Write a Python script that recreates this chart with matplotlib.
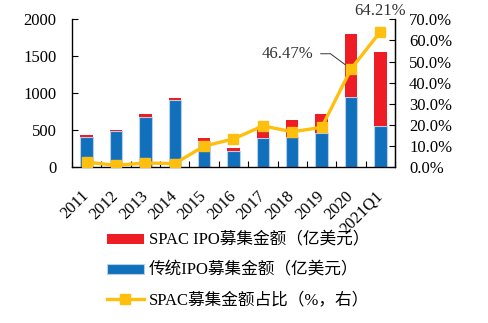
import numpy as np
import matplotlib.pyplot as plt
from matplotlib.ticker import FuncFormatter, MultipleLocator
from matplotlib.transforms import ScaledTranslation

plt.rcParams['font.family'] = ['Liberation Serif', 'Noto Sans CJK SC']
plt.rcParams['font.size'] = 12

years = ['2011', '2012', '2013', '2014', '2015', '2016', '2017', '2018', '2019', '2020', '2021Q1']
trad_ipo = [407, 488, 678, 904, 348, 217, 397, 407, 465, 953, 557]
spac_ipo = [27, 14, 41, 32, 45, 45, 135, 230, 254, 850, 1000]
spac_share = [2.3, 0.8, 1.9, 1.6, 9.9, 13.3, 19.5, 16.7, 18.8, 46.47, 64.21]

red = '#ee1c25'
blue = '#1170bb'
yellow = '#ffbf0f'

fig = plt.figure(figsize=(4.89, 3.23), dpi=100)
ax = fig.add_axes([0.147, 0.483, 0.661, 0.457])
x = np.arange(len(years))

ax.bar(x, trad_ipo, width=0.42, color=blue, edgecolor='#b8cdea', linewidth=0.8,
       label='传统IPO募集金额（亿美元）', zorder=2)
ax.bar(x, spac_ipo, width=0.42, bottom=trad_ipo, color=red, linewidth=0,
       label='SPAC IPO募集金额（亿美元）', zorder=2)

ax.set_xlim(-0.5, len(years) - 0.5)
ax.set_ylim(0, 2000)
ax.yaxis.set_major_locator(MultipleLocator(500))
ax.set_xticks(x)
ax.set_xticklabels(years, rotation=45, ha='right', rotation_mode='anchor')
ax.set_xticks(np.arange(-0.5, len(years)), minor=True)
ax.tick_params(axis='x', which='major', length=0, pad=15)
ax.tick_params(axis='x', which='minor', direction='in', length=4, width=0.8)
ax.tick_params(axis='y', direction='in', length=4, width=0.8, pad=11)
# nudge the rotated year labels a little to the left
shift = ScaledTranslation(-4 / 72, 0, fig.dpi_scale_trans)
for lbl in ax.get_xticklabels():
    lbl.set_transform(lbl.get_transform() + shift)
ax.spines['top'].set_visible(False)
for s in ['left', 'bottom', 'right']:
    ax.spines[s].set_linewidth(0.9)

ax2 = ax.twinx()
ax2.plot(x, spac_share, color=yellow, lw=2.4, marker='s', ms=7,
         label='SPAC募集金额占比（%，右）', zorder=3)
ax2.set_ylim(0, 70)
ax2.yaxis.set_major_locator(MultipleLocator(10))
ax2.yaxis.set_major_formatter(FuncFormatter(lambda v, p: f'{v:.1f}%'))
ax2.tick_params(axis='y', direction='in', length=4, width=0.8, pad=10)
ax2.spines['top'].set_visible(False)
ax2.spines['right'].set_linewidth(0.9)

# 2020 label sits up-left, joined to its marker by a bent leader line
lab_x, lab_y = 6.85, 53.7
ax2.text(lab_x, lab_y, f'{spac_share[9]:.2f}%', ha='center', va='center',
         color='#333333')
ax2.plot([lab_x + 1.12, lab_x + 1.45, x[9]], [lab_y, lab_y, spac_share[9]],
         color='#333333', lw=0.7, zorder=2.5)
ax2.text(x[10], 70.3, f'{spac_share[10]:.2f}%', ha='center', va='bottom',
         color='#333333', clip_on=False)

h1, l1 = ax.get_legend_handles_labels()
h2, l2 = ax2.get_legend_handles_labels()
fig.legend([h1[1], h1[0], h2[0]], [l1[1], l1[0], l2[0]], loc='upper left',
           bbox_to_anchor=(0.205, 0.3), frameon=False, handlelength=2.2,
           handleheight=0.55, labelspacing=0.82, handletextpad=0.3,
           borderaxespad=0)

fig.savefig('out.png', dpi=100)
